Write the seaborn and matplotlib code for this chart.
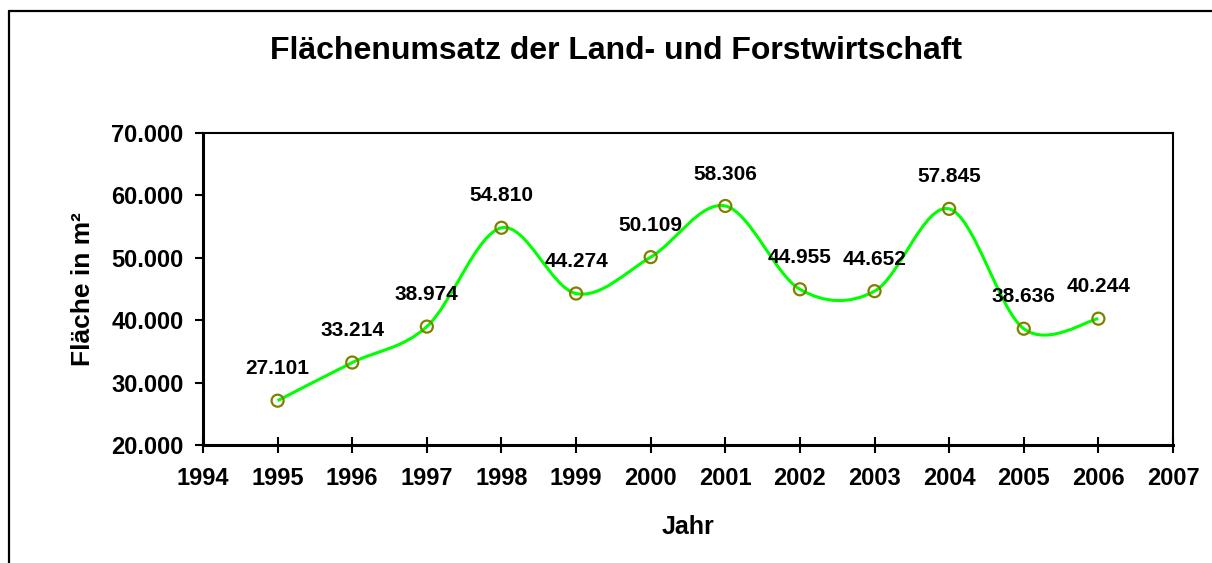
import numpy as np
import pandas as pd
import seaborn as sns
import matplotlib.pyplot as plt
from matplotlib.path import Path
from matplotlib.patches import PathPatch
from matplotlib.lines import Line2D

# data
jahre = [1995, 1996, 1997, 1998, 1999, 2000, 2001, 2002, 2003, 2004, 2005, 2006]
flaeche = [27101, 33214, 38974, 54810, 44274, 50109, 58306, 44955, 44652, 57845, 38636, 40244]
x_ticks = list(range(1994, 2008))
y_ticks = [20000, 30000, 40000, 50000, 60000, 70000]

df = pd.DataFrame({"Jahr": jahre, "Flaeche": flaeche})

sns.set_theme(style="white")
plt.rcParams['font.family'] = ['Liberation Sans', 'DejaVu Sans']
plt.rcParams['font.weight'] = 'bold'
plt.rcParams['text.color'] = 'black'
plt.rcParams['axes.labelcolor'] = 'black'

fig = plt.figure(figsize=(12.12, 5.63), dpi=100)
ax = fig.add_axes([203 / 1212, 1 - 445 / 563, 970 / 1212, 312 / 563])


def fmt_de(v):
    return f"{v:,.0f}".replace(",", ".")


# smoothed line like the spreadsheet (bezier through the points)
xs = np.array(jahre, dtype=float)
ys = np.array(flaeche, dtype=float)
verts = [(xs[0], ys[0])]
codes = [Path.MOVETO]
n = len(xs)
for i in range(n - 1):
    i0 = max(i - 1, 0)
    i3 = min(i + 2, n - 1)
    c1 = (xs[i] + (xs[i + 1] - xs[i0]) / 6, ys[i] + (ys[i + 1] - ys[i0]) / 6)
    c2 = (xs[i + 1] - (xs[i3] - xs[i]) / 6, ys[i + 1] - (ys[i3] - ys[i]) / 6)
    verts += [c1, c2, (xs[i + 1], ys[i + 1])]
    codes += [Path.CURVE4] * 3
ax.add_patch(PathPatch(Path(verts, codes), facecolor="none", edgecolor="#00FF00",
                       lw=2.2, zorder=2))

sns.scatterplot(data=df, x="Jahr", y="Flaeche", ax=ax, marker="o", s=75,
                facecolor="none", edgecolor="#808000", linewidth=1.6, zorder=3)

for x, y in zip(jahre, flaeche):
    ax.annotate(fmt_de(y), (x, y), xytext=(0, 23), textcoords="offset points",
                ha="center", va="center", fontsize=15, fontweight="bold", color="black")

ax.set_xlim(1994, 2007)
ax.set_ylim(20000, 70000)
ax.set_xticks(x_ticks)
ax.set_yticks(y_ticks)
ax.set_yticklabels([fmt_de(v) for v in y_ticks])
ax.tick_params(axis="x", direction="inout", length=11, width=1.5, labelsize=17, pad=10,
               colors="black")
ax.tick_params(axis="y", direction="out", length=6, width=1.5, labelsize=17, pad=8,
               colors="black")
ax.tick_params(bottom=True, left=True)
for lab in ax.get_xticklabels() + ax.get_yticklabels():
    lab.set_fontweight("bold")

for side in ["left", "bottom"]:
    ax.spines[side].set_linewidth(2.2)
    ax.spines[side].set_color("black")
for side in ["top", "right"]:
    ax.spines[side].set_linewidth(1.5)
    ax.spines[side].set_color("black")

ax.set_xlabel("Jahr", fontsize=18, fontweight="bold", labelpad=18, color="black")
ax.set_ylabel("Fläche in m²", fontsize=19, fontweight="bold", labelpad=12, color="black")

fig.text(616 / 1212, 1 - 51 / 563, "Flächenumsatz der Land- und Forstwirtschaft",
         ha="center", va="center", fontsize=23, fontweight="bold", color="black")

# outer chart frame (partly cut off)
fig.add_artist(Line2D([9 / 1212, 9 / 1212], [0, 1 - 11 / 563], transform=fig.transFigure,
                      color="black", lw=1.6))
fig.add_artist(Line2D([9 / 1212, 1], [1 - 11 / 563, 1 - 11 / 563], transform=fig.transFigure,
                      color="black", lw=1.6))

fig.savefig("out.png", dpi=100)
